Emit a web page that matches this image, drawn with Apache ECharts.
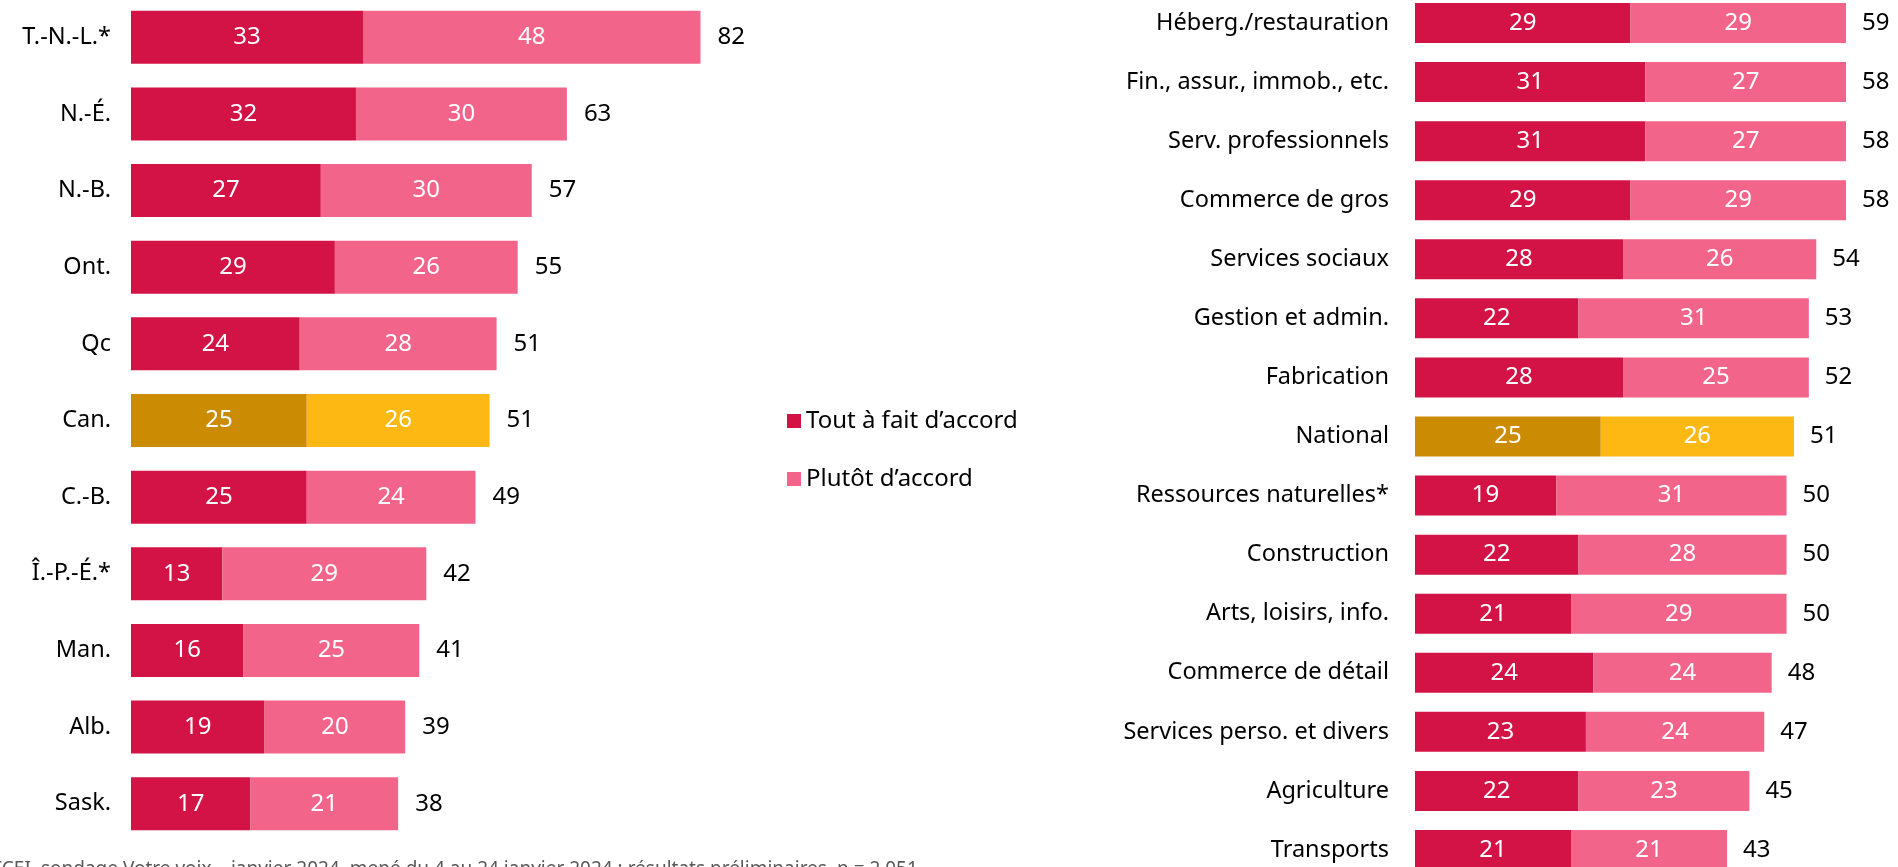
<!DOCTYPE html>
<html>
<head>
<meta charset="utf-8">
<script src="https://cdn.jsdelivr.net/npm/echarts@6/dist/echarts.min.js"></script>
<style>
html, body { margin: 0; padding: 0; background: #fff; }
#chart { width: 1898px; height: 867px; }
</style>
</head>
<body>
<div id="chart"></div>
<script>
// Data

const provinces = ["T.-N.-L.*", "N.-É.", "N.-B.", "Ont.", "Qc", "Can.", "C.-B.", "Î.-P.-É.*", "Man.", "Alb.", "Sask."];
const provStrong = [33, 32, 27, 29, 24, 25, 25, 13, 16, 19, 17];
const provSomewhat = [48, 30, 30, 26, 28, 26, 24, 29, 25, 20, 21];
const provTotals = [82, 63, 57, 55, 51, 51, 49, 42, 41, 39, 38];

const sectors = ["Héberg./restauration", "Fin., assur., immob., etc.", "Serv. professionnels", "Commerce de gros",
    "Services sociaux", "Gestion et admin.", "Fabrication", "National", "Ressources naturelles*", "Construction",
    "Arts, loisirs, info.", "Commerce de détail", "Services perso. et divers", "Agriculture", "Transports"];
const secStrong = [29, 31, 31, 29, 28, 22, 28, 25, 19, 22, 21, 24, 23, 22, 21];
const secSomewhat = [29, 27, 27, 29, 26, 31, 25, 26, 31, 28, 29, 24, 24, 23, 21];
const secTotals = [59, 58, 58, 58, 54, 53, 52, 51, 50, 50, 50, 48, 47, 45, 43];

const SERIES_STRONG = "Tout à fait d’accord";
const SERIES_SOMEWHAT = "Plutôt d’accord";
const footnote = "FCEI, sondage Votre voix – janvier 2024, mené du 4 au 24 janvier 2024 ; résultats préliminaires, n = 2 051.";

// Style

const FONT = "Noto Sans";
const RED = "#D31245";
const PINK = "#F3648A";
const GOLD = "#CB8C03";
const YELLOW = "#FDB813";

function buildItems(values, cats, highlight, color)
{
    return values.map(function (v, i)
    {
        const item = { value: v };
        if (cats[i] === highlight) item.itemStyle = { color: color };
        return item;
    });
}

function barSeries(name, idx, values, cats, highlight, hiColor, color, width)
{
    return {
        name: name,
        type: "bar",
        stack: "s" + idx,
        xAxisIndex: idx,
        yAxisIndex: idx,
        barWidth: width,
        itemStyle: { color: color },
        label: {
            show: true,
            position: "inside",
            color: "#fff",
            fontFamily: FONT,
            fontSize: 24
        },
        data: buildItems(values, cats, highlight, hiColor),
        silent: true
    };
}

function totalSeries(idx, totals, width, dist)
{
    return {
        name: "total" + idx,
        type: "bar",
        stack: "s" + idx,
        xAxisIndex: idx,
        yAxisIndex: idx,
        barWidth: width,
        itemStyle: { color: "transparent" },
        label: {
            show: true,
            position: "right",
            distance: dist,
            color: "#000",
            fontFamily: FONT,
            fontSize: 24,
            formatter: function (p) { return totals[p.dataIndex]; }
        },
        data: totals.map(function () { return 0; }),
        silent: true
    };
}

function catAxis(idx, cats, margin)
{
    return {
        type: "category",
        gridIndex: idx,
        data: cats,
        inverse: true,
        axisLine: { show: false },
        axisTick: { show: false },
        axisLabel: { color: "#000", fontFamily: FONT, fontSize: 23.5, margin: margin }
    };
}

function valAxis(idx, max)
{
    return {
        type: "value",
        gridIndex: idx,
        min: 0,
        max: max,
        show: false,
        splitLine: { show: false }
    };
}

const chart = echarts.init(document.getElementById("chart"), null, { renderer: "canvas" });

chart.setOption({
    animation: false,
    backgroundColor: "#fff",
    grid: [
        { left: 131, top: -1, width: 696, height: 843, outerBoundsMode: "none", containLabel: false },
        { left: 1415, top: -6.5, width: 483, height: 886, outerBoundsMode: "none", containLabel: false }
    ],
    xAxis: [valAxis(0, 99), valAxis(1, 65)],
    yAxis: [catAxis(0, provinces, 20), catAxis(1, sectors, 26)],
    legend: {
        data: [SERIES_STRONG, SERIES_SOMEWHAT],
        orient: "vertical",
        left: 782,
        top: 404,
        itemWidth: 14,
        itemHeight: 14,
        itemGap: 34,
        icon: "rect",
        textStyle: { color: "#000", fontFamily: FONT, fontSize: 24, padding: [0, 0, 0, 0] },
        selectedMode: false
    },
    graphic: [{
        type: "text",
        left: -8,
        top: 860,
        silent: true,
        style: { text: footnote, fill: "#595959", font: "19px '" + FONT + "'" }
    }],
    series: [
        barSeries(SERIES_STRONG, 0, provStrong, provinces, "Can.", GOLD, RED, 53),
        barSeries(SERIES_SOMEWHAT, 0, provSomewhat, provinces, "Can.", YELLOW, PINK, 53),
        totalSeries(0, provTotals, 53, 17),
        barSeries(SERIES_STRONG, 1, secStrong, sectors, "National", GOLD, RED, 40),
        barSeries(SERIES_SOMEWHAT, 1, secSomewhat, sectors, "National", YELLOW, PINK, 40),
        totalSeries(1, secTotals, 40, 16)
    ]
});
</script>
</body>
</html>
